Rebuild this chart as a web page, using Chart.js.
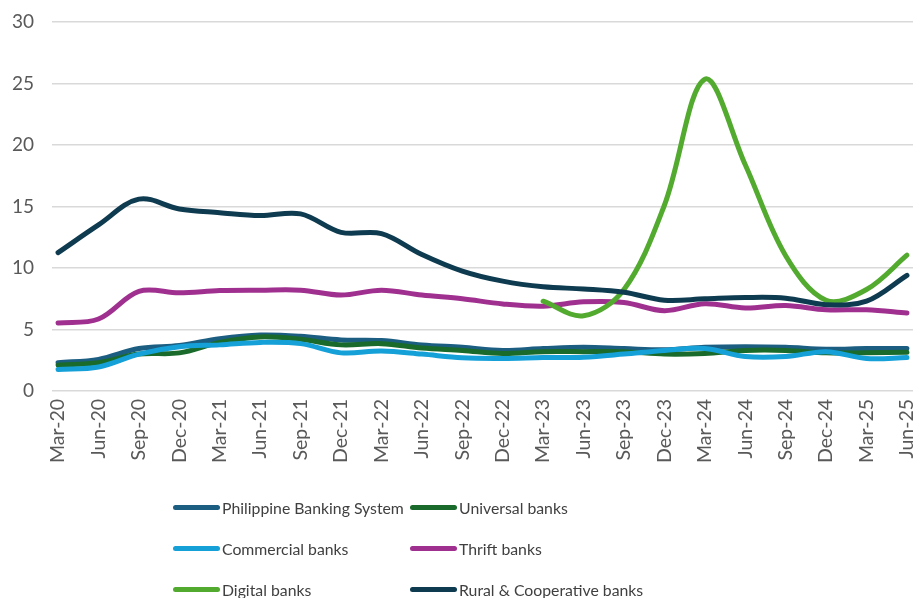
<!DOCTYPE html>
<html>
<head>
<meta charset="utf-8">
<script src="https://cdn.jsdelivr.net/npm/chart.js@4.4.1/dist/chart.umd.min.js"></script>
<style>
  html, body { margin: 0; padding: 0; background: #ffffff; }
  #wrap { position: relative; width: 915px; height: 598px; overflow: hidden; }
  #chartBox { position: absolute; left: 0; top: 0; width: 915px; height: 598px; }
  .lg { position: absolute; display: flex; align-items: center; font-family: Lato, "Open Sans", sans-serif; font-size: 15.8px; color: #404040; white-space: nowrap; }
  .lg .sw { width: 47px; height: 5px; border-radius: 3px; margin-right: 2px; }
</style>
</head>
<body>
<div id="wrap">
  <div id="chartBox"><canvas id="c"></canvas></div>
  <div id="legend"></div>
</div>
<script>
const categories = ['Mar-20','Jun-20','Sep-20','Dec-20','Mar-21','Jun-21','Sep-21','Dec-21','Mar-22','Jun-22','Sep-22','Dec-22','Mar-23','Jun-23','Sep-23','Dec-23','Mar-24','Jun-24','Sep-24','Dec-24','Mar-25','Jun-25'];

const pbs        = [2.3, 2.57, 3.45, 3.7, 4.25, 4.55, 4.45, 4.15, 4.1, 3.75, 3.55, 3.3, 3.45, 3.55, 3.45, 3.35, 3.55, 3.6, 3.55, 3.4, 3.45, 3.45];
const universal  = [2.1, 2.3, 3.0, 3.1, 3.95, 4.4, 4.2, 3.75, 3.85, 3.5, 3.3, 3.05, 3.2, 3.2, 3.2, 3.0, 3.05, 3.3, 3.3, 3.1, 3.1, 3.15];
const commercial = [1.75, 1.95, 3.0, 3.6, 3.75, 3.95, 3.85, 3.1, 3.25, 3.0, 2.7, 2.65, 2.72, 2.75, 3.0, 3.3, 3.45, 2.8, 2.8, 3.2, 2.65, 2.72];
const thrift     = [5.52, 5.85, 8.1, 7.98, 8.17, 8.2, 8.2, 7.8, 8.2, 7.8, 7.5, 7.08, 6.9, 7.25, 7.2, 6.53, 7.1, 6.75, 6.95, 6.6, 6.6, 6.34];
const digital    = [null, null, null, null, null, null, null, null, null, null, null, null, 7.3, 6.12, 8.25, 15.1, 25.35, 18.4, 11.0, 7.38, 8.25, 11.04];
const rural      = [11.25, 13.5, 15.6, 14.8, 14.5, 14.26, 14.4, 12.9, 12.8, 11.1, 9.75, 8.93, 8.47, 8.3, 8.03, 7.38, 7.49, 7.6, 7.55, 7.02, 7.3, 9.4];

const yTicks = [0, 5, 10, 15, 20, 25, 30];

const seriesNames  = ['Philippine Banking System', 'Universal banks', 'Commercial banks', 'Thrift banks', 'Digital banks', 'Rural & Cooperative banks'];
const seriesValues = [pbs, universal, commercial, thrift, digital, rural];
const seriesColors = ['#1B5E82', '#1A6B2B', '#15A0D8', '#A0308F', '#52AA2F', '#0E3B50'];

const toPoints = arr => arr.map((v, i) => v == null ? null : { x: i, y: v }).filter(p => p !== null);

const datasets = seriesNames.map((name, k) => ({
  label: name,
  data: toPoints(seriesValues[k]),
  borderColor: seriesColors[k],
  backgroundColor: seriesColors[k],
  borderWidth: 5,
  pointRadius: 0,
  tension: 0.35,
  borderCapStyle: 'round',
  borderJoinStyle: 'round',
  fill: false,
  order: seriesNames.length - k
}));

const FONT = 'Lato, "Open Sans", sans-serif';

new Chart(document.getElementById('c'), {
  type: 'line',
  data: { datasets },
  options: {
    responsive: true,
    maintainAspectRatio: false,
    animation: false,
    layout: { padding: { left: 12, right: 2, top: 22, bottom: 127 } },
    plugins: { legend: { display: false }, tooltip: { enabled: false } },
    scales: {
      x: {
        type: 'linear',
        min: -0.15,
        max: categories.length - 1 + 0.15,
        afterBuildTicks: s => { s.ticks = categories.map((c, i) => ({ value: i })); },
        afterFit: s => { s.height = 80; s.paddingLeft = 0; s.paddingRight = 0; },
        grid: { display: false, drawTicks: false },
        border: { display: false },
        ticks: {
          autoSkip: false,
          minRotation: 90,
          maxRotation: 90,
          padding: 8,
          color: '#595959',
          font: { family: FONT, size: 19.5 },
          callback: v => categories[v]
        }
      },
      y: {
        min: 0,
        max: 30,
        afterBuildTicks: s => { s.ticks = yTicks.map(v => ({ value: v })); },
        afterFit: s => { s.width = 40; s.paddingTop = 0; s.paddingBottom = 0; },
        grid: { color: '#D9D9D9', lineWidth: 1.5, drawTicks: false },
        border: { display: false },
        ticks: {
          padding: 18,
          color: '#595959',
          font: { family: FONT, size: 19 }
        }
      }
    }
  }
});

// HTML legend in two columns built from the series arrays
const legend = document.getElementById('legend');
const colX = [173, 410];
const rowY = [507, 548, 589];
seriesNames.forEach((name, k) => {
  const d = document.createElement('div');
  d.className = 'lg';
  d.style.left = colX[k % 2] + 'px';
  d.style.top = (rowY[Math.floor(k / 2)] - 11) + 'px';
  d.style.height = '22px';
  const sw = document.createElement('span');
  sw.className = 'sw';
  sw.style.background = seriesColors[k];
  const t = document.createElement('span');
  t.textContent = name;
  d.appendChild(sw);
  d.appendChild(t);
  legend.appendChild(d);
});
</script>
</body>
</html>
